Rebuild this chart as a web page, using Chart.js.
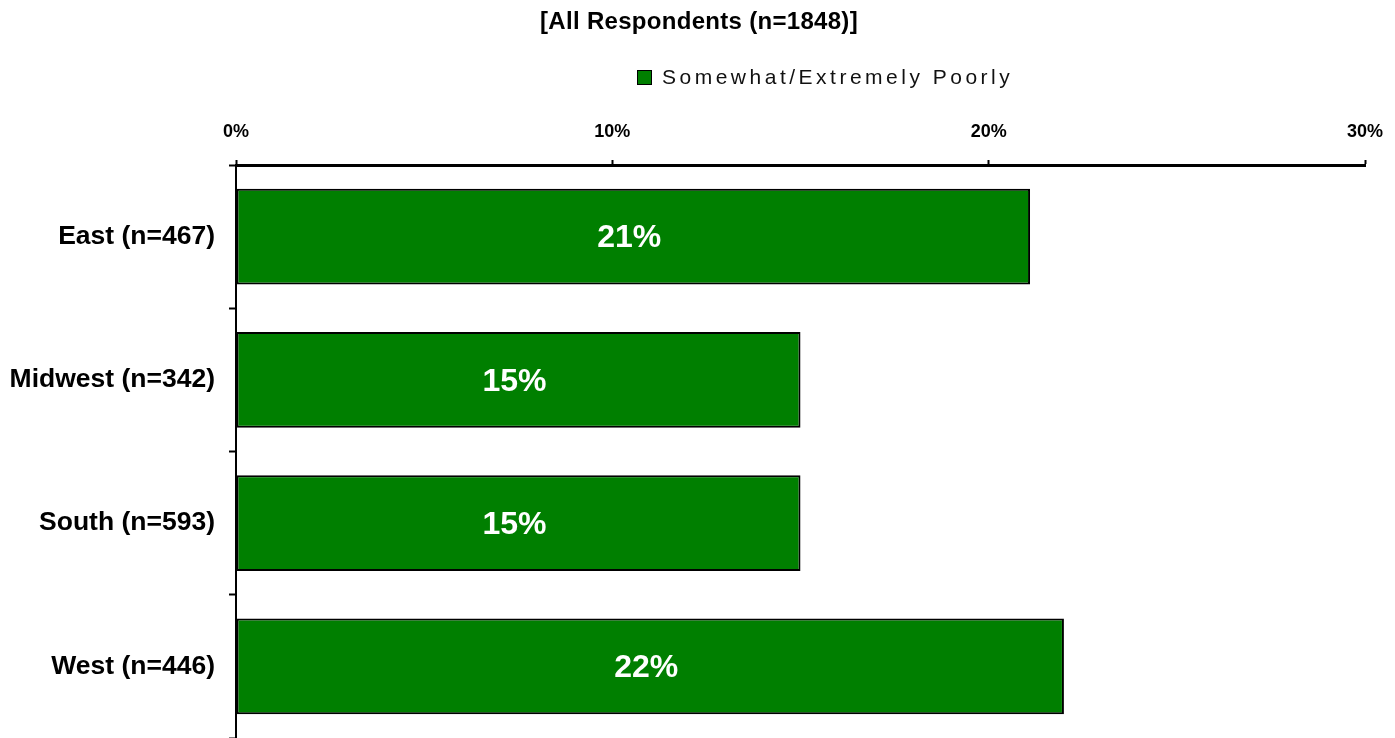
<!DOCTYPE html>
<html>
<head>
<meta charset="utf-8">
<script src="https://cdn.jsdelivr.net/npm/chart.js@4/dist/chart.umd.min.js"></script>
<style>
  html, body { margin: 0; padding: 0; background: #ffffff; }
  #wrap { width: 1395px; height: 738px; position: relative; }
</style>
</head>
<body>
<div id="wrap"><canvas id="c" width="1395" height="738"></canvas></div>
<script>
const titleText = "[All Respondents (n=1848)]";
const seriesName = "Somewhat/Extremely Poorly";
const categories = ["East (n=467)", "Midwest (n=342)", "South (n=593)", "West (n=446)"];
const values = [21.1, 15.0, 15.0, 22.0];
const valueLabels = ["21%", "15%", "15%", "22%"];
const tickValues = [0, 10, 20, 30];

const BAR_GREEN = "#007f00";
const FONT = "'Liberation Sans', Arial, sans-serif";

const headerPlugin = {
  id: "header",
  afterDraw(chart) {
    const ctx = chart.ctx;
    ctx.save();
    ctx.fillStyle = "#000";
    ctx.font = "bold 24px " + FONT;
    ctx.textAlign = "center";
    ctx.textBaseline = "middle";
    if ('letterSpacing' in ctx) ctx.letterSpacing = "0.3px";
    ctx.fillText(titleText, 699, 22);
    // legend
    ctx.fillStyle = BAR_GREEN;
    ctx.fillRect(637, 70, 15, 15);
    ctx.strokeStyle = "#000";
    ctx.lineWidth = 1;
    ctx.strokeRect(637.5, 70.5, 14, 14);
    ctx.fillStyle = "#111";
    ctx.font = "21px " + FONT;
    ctx.textAlign = "left";
    if ('letterSpacing' in ctx) ctx.letterSpacing = "3.5px";
    ctx.fillText(seriesName, 662, 78);
    ctx.restore();
  }
};

const valueLabelPlugin = {
  id: "valueLabels",
  afterDatasetsDraw(chart) {
    const ctx = chart.ctx;
    const meta = chart.getDatasetMeta(0);
    ctx.save();
    ctx.fillStyle = "#ffffff";
    ctx.font = "bold 32px " + FONT;
    ctx.textAlign = "center";
    ctx.textBaseline = "middle";
    meta.data.forEach((bar, i) => {
      const p = bar.getProps(["x", "y", "base"], true);
      ctx.fillText(valueLabels[i], (p.x + p.base) / 2 - 4, p.y + 2);
    });
    ctx.restore();
  }
};

new Chart(document.getElementById("c"), {
  type: "bar",
  data: {
    labels: categories,
    datasets: [{
      label: seriesName,
      data: values,
      backgroundColor: BAR_GREEN,
      borderColor: "#000",
      borderWidth: 2,
      borderSkipped: false,
      categoryPercentage: 1.0,
      barPercentage: 0.67
    }]
  },
  options: {
    indexAxis: "y",
    responsive: false,
    animation: false,
    devicePixelRatio: 1,
    layout: { padding: { top: 105, right: 30, bottom: 0, left: 0 } },
    plugins: {
      legend: { display: false },
      title: { display: false },
      tooltip: { enabled: false }
    },
    scales: {
      x: {
        position: "top",
        min: 0,
        max: 30,
        afterFit(scale) {
          scale.height = 60;
          scale.paddingLeft = 0; scale.paddingRight = 0;
        },
        afterBuildTicks(scale) { scale.ticks = tickValues.map(v => ({ value: v })); },
        grid: {
          drawOnChartArea: false,
          drawTicks: true,
          tickLength: 5,
          tickWidth: 2,
          tickColor: "#000"
        },
        border: { display: true, color: "#000", width: 3 },
        ticks: {
          padding: 17,
          color: "#000",
          font: { family: FONT, size: 18, weight: "bold" },
          callback: (v) => v + "%"
        }
      },
      y: {
        afterFit(scale) {
          scale.width = 236;
          scale.paddingTop = 0; scale.paddingBottom = 0;
        },
        grid: {
          drawOnChartArea: false,
          drawTicks: true,
          offset: true,
          tickLength: 7,
          tickWidth: 2,
          tickColor: "#000"
        },
        border: { display: true, color: "#000", width: 2 },
        ticks: {
          padding: 14,
          color: "#000",
          font: { family: FONT, size: 26.5, weight: "bold" }
        }
      }
    }
  },
  plugins: [headerPlugin, valueLabelPlugin]
});
</script>
</body>
</html>
